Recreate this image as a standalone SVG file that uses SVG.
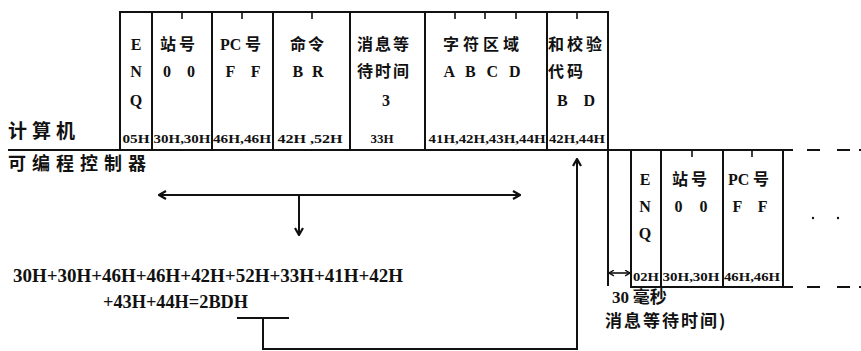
<svg xmlns="http://www.w3.org/2000/svg" width="861" height="351" viewBox="0 0 861 351">
<defs>
<style>
.ln{stroke:#111;stroke-width:2;fill:none}
.tk{stroke:#111;stroke-width:1.6;fill:none}
.lat{font-family:"Liberation Serif","Times New Roman",serif;font-weight:bold;font-size:16px;fill:#111}
.hex{font-family:"Liberation Serif","Times New Roman",serif;font-weight:bold;font-size:12px;fill:#111}
.cjk{font-family:"Noto Sans CJK SC","Noto Sans CJK JP",sans-serif;font-weight:bold;font-size:16px;fill:#111}
.big{font-family:"Noto Sans CJK SC","Noto Sans CJK JP",sans-serif;font-weight:bold;font-size:19px;fill:#111}
.fm{font-family:"Liberation Serif","Times New Roman",serif;font-weight:bold;font-size:18px;fill:#111}
.m{text-anchor:middle}
</style>
<marker id="ah" viewBox="0 0 10 10" refX="9" refY="5" markerWidth="10" markerHeight="10" markerUnits="userSpaceOnUse" orient="auto-start-reverse">
<path d="M2,1 L9,5 L2,9" fill="none" stroke="#111" stroke-width="2.2"/>
</marker>
<marker id="ahs" viewBox="0 0 10 10" refX="9" refY="5" markerWidth="7" markerHeight="7" markerUnits="userSpaceOnUse" orient="auto-start-reverse">
<path d="M2,1 L9,5 L2,9" fill="none" stroke="#111" stroke-width="2"/>
</marker>
</defs>

<g id="labels">
<text class="big" x="8" y="138" style="letter-spacing:5px">计算机</text>
<text class="big" x="8" y="170" style="font-size:18px;letter-spacing:6px">可编程控制器</text>
</g>

<g id="frame1">
<path class="ln" d="M120,150 V12 H608 V286 M152,12 V150 M212,12 V150 M273,12 V150 M350,12 V150 M425,12 V150 M547,12 V150"/>
<path class="tk" d="M182,12 v7 M242,12 v7 M312,12 v7 M455,12 v7 M485,12 v7 M516,12 v7 M577,12 v7"/>
<text class="lat m" x="136" y="50">E</text>
<text class="lat m" x="136" y="77">N</text>
<text class="lat m" x="136" y="106">Q</text>
<text class="cjk" x="160" y="50" style="letter-spacing:3px">站号</text>
<text class="lat m" x="179" y="77" textLength="32">0 0</text>
<text class="cjk" x="220" y="50"><tspan class="lat">PC</tspan> 号</text>
<text class="lat m" x="243" y="77" textLength="35">F F</text>
<text class="cjk" x="290" y="50" style="letter-spacing:2px">命令</text>
<text class="lat m" x="308" y="77" textLength="31">B R</text>
<text class="cjk" x="357" y="50" style="letter-spacing:2px">消息等</text>
<text class="cjk" x="357" y="77" style="letter-spacing:2px">待时间</text>
<text class="lat m" x="386" y="106">3</text>
<text class="cjk" x="443" y="50" style="letter-spacing:4px">字符区域</text>
<text class="lat m" x="482" y="77" textLength="77">A B C D</text>
<text class="cjk" x="548" y="50" style="letter-spacing:3px">和校验</text>
<text class="cjk" x="548" y="77" style="letter-spacing:3px">代码</text>
<text class="lat m" x="576" y="106" textLength="38">B D</text>
<text class="hex m" x="136" y="143" textLength="27" lengthAdjust="spacingAndGlyphs">05H</text>
<text class="hex m" x="182" y="143" textLength="57" lengthAdjust="spacingAndGlyphs">30H,30H</text>
<text class="hex m" x="242" y="143" textLength="58" lengthAdjust="spacingAndGlyphs">46H,46H</text>
<text class="hex m" x="310" y="143" textLength="65" lengthAdjust="spacingAndGlyphs">42H ,52H</text>
<text class="hex m" x="382" y="143" textLength="23" lengthAdjust="spacingAndGlyphs">33H</text>
<text class="hex m" x="487" y="143" textLength="117" lengthAdjust="spacingAndGlyphs">41H,42H,43H,44H</text>
<text class="hex m" x="577" y="143" textLength="56" lengthAdjust="spacingAndGlyphs">42H,44H</text>
</g>

<g id="frame2">
<path class="ln" d="M631,150 V287 H793 M661,150 V287 M723,150 V287 M783,150 V287"/>
<path class="tk" d="M692,150 v7 M752,150 v7"/>
<text class="lat m" x="645" y="185">E</text>
<text class="lat m" x="645" y="212">N</text>
<text class="lat m" x="645" y="239">Q</text>
<text class="cjk" x="672" y="185" style="letter-spacing:3px">站号</text>
<text class="lat m" x="691" y="212" textLength="33">0 0</text>
<text class="cjk" x="728" y="185"><tspan class="lat">PC</tspan> 号</text>
<text class="lat m" x="750" y="212" textLength="35">F F</text>
<text class="hex m" x="646" y="281" textLength="26" lengthAdjust="spacingAndGlyphs">02H</text>
<text class="hex m" x="691" y="281" textLength="57" lengthAdjust="spacingAndGlyphs">30H,30H</text>
<text class="hex m" x="752" y="281" textLength="56" lengthAdjust="spacingAndGlyphs">46H,46H</text>
<circle cx="813" cy="218" r="1.2" fill="#111"/>
<circle cx="838" cy="218" r="1.2" fill="#111"/>
</g>

<g id="wait">
<text class="cjk" x="612" y="303" style="font-size:17px"><tspan class="lat" style="font-size:17px">30</tspan> 毫秒</text>
<text class="cjk" x="605" y="327" style="font-size:17px;letter-spacing:2px">消息等待时间)</text>
</g>

<g id="formula">
<text class="fm" x="13" y="282" textLength="390" lengthAdjust="spacingAndGlyphs">30H+30H+46H+46H+42H+52H+33H+41H+42H</text>
<text class="fm" x="103" y="308" textLength="145" lengthAdjust="spacingAndGlyphs">+43H+44H=2BDH</text>
</g>

<g id="connectors">
<path class="ln" d="M8,150 H793"/>
<path class="ln" d="M807,150 h13 M837,150 h13 M859,150 h3 M807,287 h13 M837,287 h13 M859,287 h3"/>
<path class="ln" d="M159,195 H520" marker-start="url(#ah)" marker-end="url(#ah)"/>
<path class="ln" d="M299,195 V235" marker-end="url(#ah)"/>
<path class="ln" d="M237,318 H289 M263,318 V349 H577 V159" marker-end="url(#ah)"/>
<path class="tk" d="M609,273 H630" marker-start="url(#ahs)" marker-end="url(#ahs)"/>
</g>
</svg>
